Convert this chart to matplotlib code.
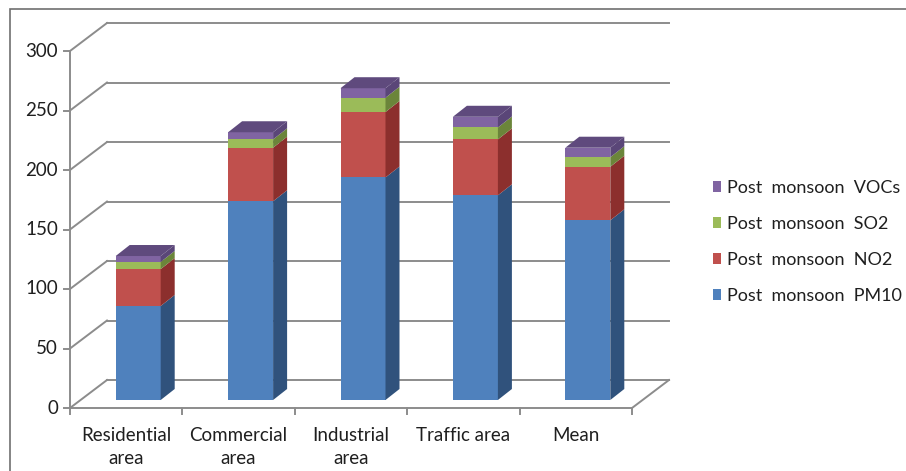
import matplotlib.pyplot as plt
from matplotlib.patches import Polygon, Rectangle, Patch

plt.rcParams['font.family'] = ['Lato', 'DejaVu Sans']

categories = ['Residential\narea', 'Commercial\narea', 'Industrial\narea', 'Traffic area', 'Mean']
pm10 = [79, 167, 187, 172, 151]
no2 = [31, 45, 55, 47, 45]
so2 = [6, 7, 12, 10, 8]
vocs = [5, 6, 8, 9, 8]
series_names = ['Post  monsoon  PM10', 'Post  monsoon  NO2',
                'Post  monsoon  SO2', 'Post  monsoon  VOCs']
yticks = [0, 50, 100, 150, 200, 250, 300]

# front / side / top colours, excel-ish
front_cols = ['#4F81BD', '#C0504D', '#9BBB59', '#8064A2']
side_cols = ['#30527C', '#8C2F2D', '#6B853A', '#5A4678']
top_col = '#5F4A7D'

# pixel scale of the picture
W, H = 906, 471
X0, Y0 = 70, 408           # origin of front plane (px)
PX_CAT, PX_VAL = 112.4, 1.19

# 3d offsets in data units
DX, DY = 37 / PX_CAT, 28 / PX_VAL      # wall depth
BX, BY = 12 / PX_CAT, 8 / PX_VAL       # bar front face offset
BDX, BDY = 14 / PX_CAT, 11 / PX_VAL    # bar depth
BW = 45 / PX_CAT

fig = plt.figure(figsize=(W / 100, H / 100), dpi=100)
ax = fig.add_axes([0, 0, 1, 1])
ax.set_xlim(-X0 / PX_CAT, (W - X0) / PX_CAT)
ax.set_ylim(-(H - Y0) / PX_VAL, Y0 / PX_VAL)
ax.axis('off')

# outer chart border
fig.add_artist(Rectangle((10 / W, -0.1), 1.2, 1 - 9 / H + 0.1,
                         transform=fig.transFigure, fill=False,
                         edgecolor='#6f6f6f', linewidth=1.2))

grid_c = '#8c8c8c'
txt_c = '#1f1f1f'
n = len(categories)
for v in yticks:
    ax.plot([0, DX], [v, v + DY], color=grid_c, lw=1.4, zorder=1)
    ax.plot([DX, n + DX], [v + DY, v + DY], color=grid_c, lw=1.4, zorder=1)
    ax.plot([-6 / PX_CAT, 0], [v, v], color=grid_c, lw=1.4, zorder=1)
    ax.text(-12 / PX_CAT, v, str(v), ha='right', va='center',
            fontsize=13.5, color=txt_c)
# front axes and floor
ax.plot([0, 0], [0, yticks[-1]], color=grid_c, lw=1.4, zorder=1)
ax.plot([0, n], [0, 0], color=grid_c, lw=1.4, zorder=1)
ax.plot([n, n + DX], [0, DY], color=grid_c, lw=1.4, zorder=1)
for i in range(n + 1):
    ax.plot([i, i], [0, -6 / PX_VAL], color=grid_c, lw=1.4, zorder=1)

for i, cat in enumerate(categories):
    ax.text(i + 0.5, -19 / PX_VAL, cat, ha='center', va='top',
            fontsize=13.5, color=txt_c, linespacing=1.4)

# stacked 3d-ish bars
stack = [pm10, no2, so2, vocs]
for i in range(n):
    x0 = i + 0.5 - BW / 2 + BX
    base = BY
    for k, vals in enumerate(stack):
        h = vals[i]
        ax.add_patch(Rectangle((x0, base), BW, h, facecolor=front_cols[k],
                               edgecolor='none', zorder=3))
        side = [(x0 + BW, base), (x0 + BW + BDX, base + BDY),
                (x0 + BW + BDX, base + h + BDY), (x0 + BW, base + h)]
        ax.add_patch(Polygon(side, closed=True, facecolor=side_cols[k],
                             edgecolor='none', zorder=3))
        base += h
    top = [(x0, base), (x0 + BW, base), (x0 + BW + BDX, base + BDY),
           (x0 + BDX, base + BDY)]
    ax.add_patch(Polygon(top, closed=True, facecolor=top_col,
                         edgecolor='none', zorder=3))

handles = [Patch(facecolor=front_cols[k], edgecolor='none', label=series_names[k])
           for k in range(4)][::-1]
fig.legend(handles=handles, loc='upper left', frameon=False,
           bbox_to_anchor=(713 / W, 1 - 180 / H), fontsize=13,
           handlelength=0.45, handleheight=0.55, handletextpad=0.35,
           labelspacing=1.1, borderaxespad=0, borderpad=0,
           labelcolor=txt_c)

fig.savefig('out.png', dpi=100)
